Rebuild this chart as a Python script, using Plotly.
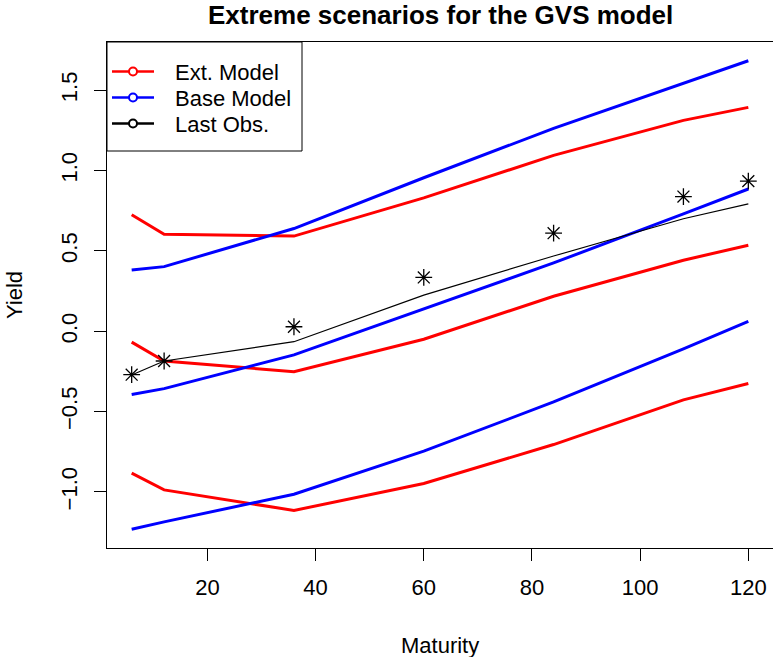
import plotly.graph_objects as go

# ---------------- data ----------------
maturity = [6, 12, 36, 60, 84, 108, 120]

ext_upper = [0.725, 0.603, 0.592, 0.830, 1.094, 1.312, 1.393]
ext_middle = [-0.068, -0.185, -0.252, -0.050, 0.218, 0.442, 0.535]
ext_lower = [-0.883, -0.987, -1.115, -0.947, -0.705, -0.427, -0.325]

base_upper = [0.381, 0.402, 0.639, 0.955, 1.262, 1.542, 1.683]
base_middle = [-0.394, -0.357, -0.147, 0.140, 0.425, 0.730, 0.885]
base_lower = [-1.232, -1.186, -1.014, -0.746, -0.440, -0.110, 0.062]

last_obs_line = [-0.272, -0.185, -0.065, 0.225, 0.468, 0.700, 0.792]
last_obs_points = [-0.270, -0.185, 0.028, 0.335, 0.610, 0.838, 0.934]

x_ticks = [20, 40, 60, 80, 100, 120]
y_ticks = [-1.0, -0.5, 0.0, 0.5, 1.0, 1.5]
y_tick_text = ["\u22121.0", "\u22120.5", "0.0", "0.5", "1.0", "1.5"]

legend_labels = ["Ext. Model", "Base Model", "Last Obs."]
legend_colors = ["red", "blue", "black"]

title_text = "Extreme scenarios for the GVS model"
x_title = "Maturity"
y_title = "Yield"

# ---------------- layout helpers ----------------
W, H = 773, 657
L, R, T, B = 107, 773, 42, 548
FONT = "Liberation Sans, Arial, Helvetica, sans-serif"


def px(x):
    return (x - L) / (R - L)


def py(y):
    return (B - y) / (B - T)


def ext_range(vals):
    lo, hi = min(vals), max(vals)
    d = (hi - lo) * 0.04
    return [lo - d, hi + d]


all_y = (ext_upper + ext_middle + ext_lower + base_upper + base_middle
         + base_lower + last_obs_line + last_obs_points)
xr = ext_range(maturity)
yr = ext_range(all_y)

fig = go.Figure()

for s in (ext_upper, ext_middle, ext_lower):
    fig.add_trace(go.Scatter(x=maturity, y=s, mode="lines",
                             line=dict(color="red", width=3)))
for s in (base_upper, base_middle, base_lower):
    fig.add_trace(go.Scatter(x=maturity, y=s, mode="lines",
                             line=dict(color="blue", width=3)))
fig.add_trace(go.Scatter(x=maturity, y=last_obs_line, mode="lines",
                         line=dict(color="black", width=1.2)))
fig.add_trace(go.Scatter(x=maturity, y=last_obs_points, mode="markers",
                         marker=dict(symbol="asterisk-open", size=14,
                                     color="black",
                                     line=dict(color="black", width=1.3))))

shapes = []
annotations = []

# legend box
shapes.append(dict(type="rect", xref="paper", yref="paper",
                   x0=px(107), x1=px(302), y0=py(151), y1=py(42),
                   line=dict(color="black", width=1), fillcolor="white",
                   layer="above"))
rows = [71.5, 97.5, 123.5]
for lab, col, ry in zip(legend_labels, legend_colors, rows):
    shapes.append(dict(type="line", xref="paper", yref="paper",
                       x0=px(112), x1=px(154), y0=py(ry), y1=py(ry),
                       line=dict(color=col, width=2.5), layer="above"))
    shapes.append(dict(type="circle", xref="paper", yref="paper",
                       xsizemode="pixel", ysizemode="pixel",
                       xanchor=px(133), yanchor=py(ry),
                       x0=-4, x1=4, y0=-4, y1=4,
                       line=dict(color=col, width=2), fillcolor="white",
                       layer="above"))
    annotations.append(dict(text=lab, xref="paper", yref="paper",
                            x=px(173), y=py(ry + 1), xanchor="left",
                            yanchor="middle", showarrow=False,
                            font=dict(family=FONT, size=22, color="black")))

# title and axis titles
annotations.append(dict(text="<b>" + title_text + "</b>", xref="paper",
                        yref="paper", x=px(440), y=py(15),
                        xanchor="center", yanchor="middle", showarrow=False,
                        font=dict(family=FONT, size=26, color="black")))
annotations.append(dict(text=x_title, xref="paper", yref="paper",
                        x=px(440), y=py(645), xanchor="center",
                        yanchor="middle", showarrow=False,
                        font=dict(family=FONT, size=22, color="black")))
annotations.append(dict(text=y_title, xref="paper", yref="paper",
                        x=px(14), y=py(295), xanchor="center",
                        yanchor="middle", showarrow=False, textangle=-90,
                        font=dict(family=FONT, size=22, color="black")))

axis_common = dict(showgrid=False, zeroline=False, showline=True,
                   linecolor="black", linewidth=1, mirror=True,
                   ticks="outside", ticklen=12, tickwidth=1,
                   tickcolor="black",
                   tickfont=dict(family=FONT, size=22, color="black"))

fig.update_layout(
    width=W, height=H,
    margin=dict(l=L, r=W - R, t=T, b=H - B, pad=0),
    paper_bgcolor="white", plot_bgcolor="white",
    showlegend=False,
    xaxis=dict(range=xr, tickvals=x_ticks, ticklabelstandoff=8,
               **axis_common),
    yaxis=dict(range=yr, tickvals=y_ticks, ticktext=y_tick_text,
               tickangle=-90, ticklabelstandoff=8, **axis_common),
    shapes=shapes,
    annotations=annotations,
)

fig.write_html("out.html")
